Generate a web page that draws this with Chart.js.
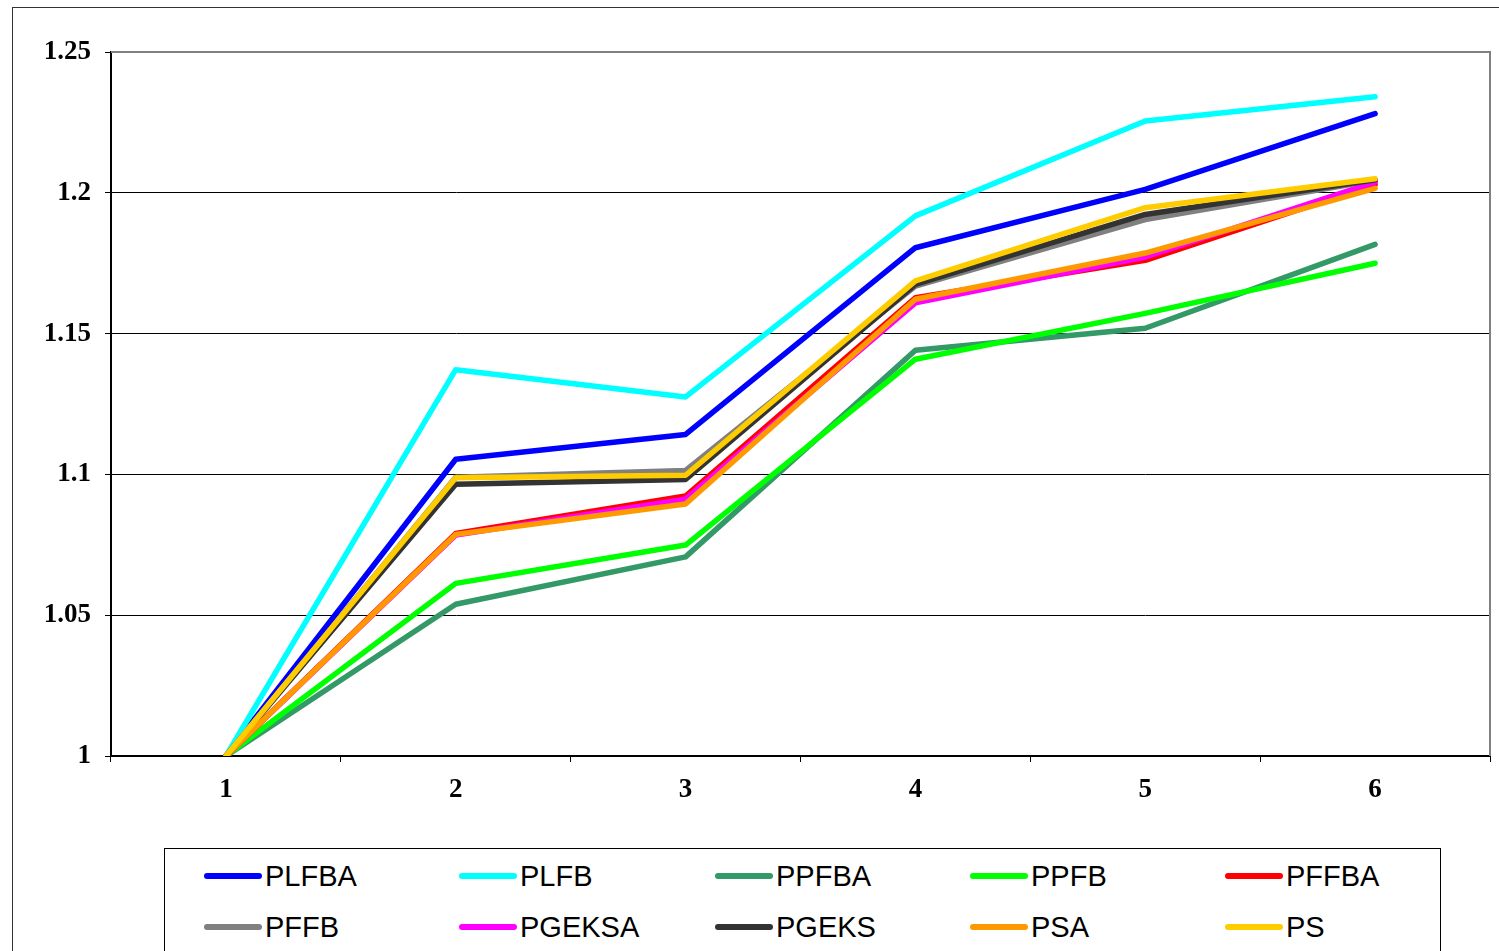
<!DOCTYPE html>
<html>
<head>
<meta charset="utf-8">
<script src="https://cdn.jsdelivr.net/npm/chart.js@4.4.1/dist/chart.umd.min.js"></script>
<style>
  html, body { margin: 0; padding: 0; background: #fff; overflow: hidden; }
  #wrap { position: relative; width: 1499px; height: 951px; overflow: hidden; }
  #frame { position: absolute; left: 12px; top: 7px; width: 1600px; height: 1000px; border: 1px solid #333; box-sizing: border-box; }
  canvas { position: absolute; left: 0; top: 0; }
  #legend { position: absolute; left: 164px; top: 848px; width: 1277px; height: 200px; border: 1px solid #000; box-sizing: border-box; background: #fff; }
  .item { position: absolute; display: flex; align-items: center; height: 34px; font-family: "Liberation Sans", Arial, sans-serif; font-size: 29px; color: #000; white-space: nowrap; }
  .swatch { display: inline-block; width: 58px; height: 6px; border-radius: 3px; margin-right: 3px; }
</style>
</head>
<body>
<div id="wrap">
  <div id="frame"></div>
  <canvas id="c" width="1499" height="951"></canvas>
  <div id="legend"></div>
</div>
<script>
const categories = ["1", "2", "3", "4", "5", "6"];
const yTickLabels = ["1", "1.05", "1.1", "1.15", "1.2", "1.25"];

const seriesNames = ["PLFBA", "PLFB", "PPFBA", "PPFB", "PFFBA", "PFFB", "PGEKSA", "PGEKS", "PSA", "PS"];
const seriesColors = ["#0000FF", "#00FFFF", "#339966", "#00FF00", "#FF0000", "#808080", "#FF00FF", "#333333", "#FF9900", "#FFCC00"];

const PLFBA  = [1, 1.1054, 1.1142, 1.1805, 1.2012, 1.2281];
const PLFB   = [1, 1.1372, 1.1275, 1.1918, 1.2255, 1.2341];
const PPFBA  = [1, 1.0539, 1.0707, 1.1441, 1.1519, 1.1817];
const PPFB   = [1, 1.0613, 1.0749, 1.1409, 1.1572, 1.1750];
const PFFBA  = [1, 1.0790, 1.0923, 1.1627, 1.1760, 1.2030];
const PFFB   = [1, 1.0990, 1.1014, 1.1669, 1.1905, 1.2044];
const PGEKSA = [1, 1.0785, 1.0912, 1.1609, 1.1772, 1.2038];
const PGEKS  = [1, 1.0965, 1.0982, 1.1675, 1.1923, 1.2046];
const PSA    = [1, 1.0787, 1.0895, 1.1622, 1.1786, 1.2016];
const PS     = [1, 1.0988, 1.0997, 1.1687, 1.1947, 1.2050];

const seriesValues = [PLFBA, PLFB, PPFBA, PPFB, PFFBA, PFFB, PGEKSA, PGEKS, PSA, PS];

const n = seriesNames.length;
const datasets = seriesNames.map((name, i) => ({
  label: name,
  data: seriesValues[i],
  borderColor: seriesColors[i],
  backgroundColor: seriesColors[i],
  borderWidth: 5.5,
  pointRadius: 0,
  tension: 0,
  fill: false,
  borderJoinStyle: 'round',
  borderCapStyle: 'round',
  order: n - i
}));

const plotBorder = {
  id: 'plotBorder',
  beforeDatasetsDraw(chart) {
    const { ctx, chartArea: a } = chart;
    ctx.save();
    ctx.strokeStyle = '#808080';
    ctx.lineWidth = 2;
    ctx.beginPath();
    ctx.moveTo(a.left, a.top);
    ctx.lineTo(a.right, a.top);
    ctx.lineTo(a.right, a.bottom);
    ctx.stroke();
    ctx.restore();
  }
};

const tickFont = { family: '"Liberation Serif", "Times New Roman", serif', size: 27, weight: 'bold' };

new Chart(document.getElementById('c'), {
  type: 'line',
  data: { labels: categories, datasets },
  options: {
    responsive: false,
    animation: false,
    events: [],
    layout: { padding: { left: 0, top: 52, right: 9, bottom: 0 } },
    plugins: { legend: { display: false }, tooltip: { enabled: false } },
    scales: {
      x: {
        type: 'category',
        offset: true,
        grid: { display: true, offset: true, drawOnChartArea: false, drawTicks: true, tickLength: 6, color: '#000', lineWidth: 1 },
        border: { display: true, color: '#000', width: 2 },
        ticks: { font: tickFont, color: '#000', padding: 12, maxRotation: 0 },
        afterFit(scale) { scale.height = 195; }
      },
      y: {
        min: 1, max: 1.25,
        grid: {
          drawOnChartArea: true, drawTicks: true, tickLength: 6, lineWidth: 1,
          color: (ctx) => (ctx.tick && Math.abs(ctx.tick.value - 1.25) < 1e-6) ? '#808080' : '#000',
          tickColor: '#000'
        },
        border: { display: true, color: '#000', width: 2 },
        ticks: {
          stepSize: 0.05,
          font: tickFont, color: '#000', padding: 14,
          callback: (v, idx) => yTickLabels[idx] !== undefined ? yTickLabels[idx] : String(v)
        },
        afterFit(scale) { scale.width = 111; }
      }
    }
  },
  plugins: [plotBorder]
});

// legend grid
const legend = document.getElementById('legend');
const colX = [39, 294, 550, 805, 1060];
const rowY = [10, 61];
seriesNames.forEach((name, i) => {
  const d = document.createElement('div');
  d.className = 'item';
  d.style.left = colX[i % 5] + 'px';
  d.style.top = rowY[Math.floor(i / 5)] + 'px';
  const s = document.createElement('span');
  s.className = 'swatch';
  s.style.background = seriesColors[i];
  d.appendChild(s);
  d.appendChild(document.createTextNode(name));
  legend.appendChild(d);
});
</script>
</body>
</html>
